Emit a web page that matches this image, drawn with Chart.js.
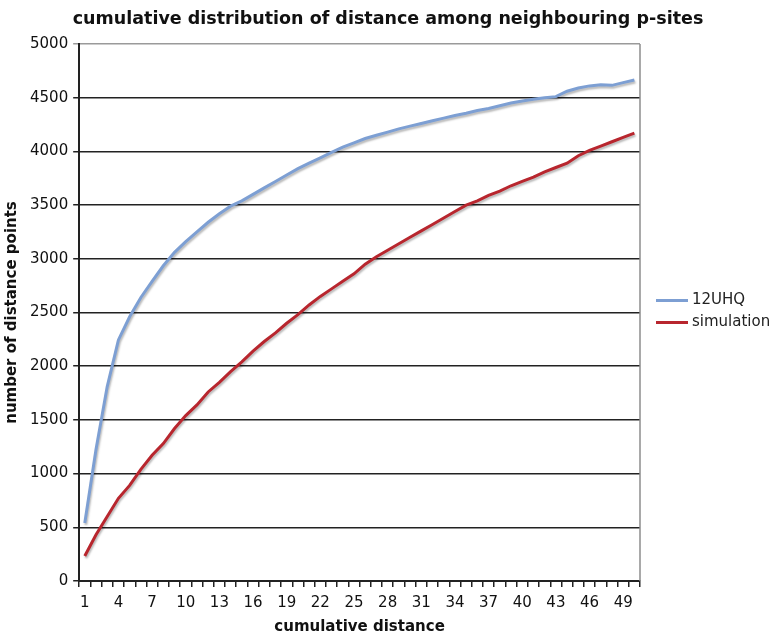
<!DOCTYPE html>
<html>
<head>
<meta charset="utf-8">
<script src="https://cdn.jsdelivr.net/npm/chart.js@4"></script>
<style>
  body { margin: 0; background: #fff; }
  #wrap { width: 780px; height: 635px; position: relative; }
</style>
</head>
<body>
<div id="wrap"><canvas id="cdfChart"></canvas></div>
<script>
// distance values along the x axis
const distances = [];
for (let d = 1; d <= 50; d++) distances.push(String(d));

const uhqCounts = [540, 1225, 1810, 2245, 2460, 2640, 2790, 2935, 3060, 3160,
  3250, 3340, 3420, 3490, 3540, 3600, 3660, 3720, 3780, 3840,
  3890, 3940, 3990, 4040, 4080, 4120, 4150, 4180, 4210, 4235,
  4260, 4285, 4310, 4335, 4355, 4380, 4400, 4425, 4450, 4470,
  4485, 4500, 4510, 4560, 4590, 4610, 4620, 4615, 4640, 4665];

const simCounts = [233, 430, 600, 770, 890, 1040, 1170, 1280, 1420, 1540,
  1640, 1760, 1850, 1950, 2040, 2140, 2230, 2310, 2400, 2480,
  2570, 2650, 2720, 2790, 2860, 2950, 3020, 3080, 3140, 3200,
  3260, 3320, 3380, 3440, 3500, 3540, 3590, 3630, 3680, 3720,
  3760, 3810, 3850, 3890, 3960, 4010, 4050, 4090, 4130, 4170];

const seriesNames = ["12UHQ", "simulation"];
const seriesColors = ["#7d9fd3", "#b8262e"];

const chartTitle = "cumulative distribution of distance among neighbouring p-sites";

const yMax = 5000;
const yStep = 500;

const fontFamily = "'DejaVu Sans', Verdana, sans-serif";

// soft grey shadow under the lines, like the original
const lineShadow = {
  id: "lineShadow",
  beforeDatasetDraw(chart) {
    const c = chart.ctx;
    c.save();
    c.shadowColor = "rgba(0,0,0,0.28)";
    c.shadowBlur = 2;
    c.shadowOffsetX = 1;
    c.shadowOffsetY = 2;
  },
  afterDatasetDraw(chart) {
    chart.ctx.restore();
  }
};

// grey frame on the right side of the plot
const rightFrame = {
  id: "rightFrame",
  afterDraw(chart) {
    const { ctx, chartArea } = chart;
    ctx.save();
    ctx.strokeStyle = "#8c8c8c";
    ctx.lineWidth = 1.5;
    ctx.beginPath();
    ctx.moveTo(chartArea.right, chartArea.top);
    ctx.lineTo(chartArea.right, chartArea.bottom);
    ctx.stroke();
    ctx.restore();
  }
};

// title centred on the whole canvas (the built-in one centres on the plot box)
const pageTitle = {
  id: "pageTitle",
  afterDraw(chart) {
    const { ctx, width } = chart;
    ctx.save();
    ctx.font = "bold 17.5px " + fontFamily;
    ctx.fillStyle = "#111";
    ctx.textAlign = "center";
    ctx.textBaseline = "middle";
    ctx.fillText(chartTitle, width / 2 - 2, 19);
    ctx.restore();
  }
};

// simple legend to the right of the plot
const sideLegend = {
  id: "sideLegend",
  afterDraw(chart) {
    const { ctx, chartArea } = chart;
    const mid = (chartArea.top + chartArea.bottom) / 2;
    const x0 = chartArea.right + 16;
    ctx.save();
    ctx.font = "15px " + fontFamily;
    ctx.textBaseline = "middle";
    chart.data.datasets.forEach((ds, i) => {
      const y = mid - 12 + i * 22;
      ctx.strokeStyle = ds.borderColor;
      ctx.lineWidth = 3;
      ctx.beginPath();
      ctx.moveTo(x0, y);
      ctx.lineTo(x0 + 32, y);
      ctx.stroke();
      ctx.fillStyle = "#222";
      ctx.fillText(ds.label, x0 + 36, y);
    });
    ctx.restore();
  }
};

const ctx = document.querySelector("#cdfChart").getContext("2d");

const data = {
  labels: distances,
  datasets: [uhqCounts, simCounts].map((vals, i) => ({
    label: seriesNames[i],
    data: vals,
    borderColor: seriesColors[i],
    backgroundColor: seriesColors[i],
    borderWidth: 3,
    pointRadius: 0,
    tension: 0,
    fill: false
  }))
};

const config = {
  type: "line",
  data: data,
  options: {
    responsive: true,
    maintainAspectRatio: false,
    animation: false,
    layout: { padding: { left: 3, right: 140, top: 44, bottom: 0 } },
    plugins: {
      legend: { display: false },
      tooltip: { enabled: false },
      title: { display: false }
    },
    scales: {
      x: {
        type: "category",
        offset: true,
        grid: {
          offset: true,
          drawOnChartArea: false,
          drawTicks: true,
          tickLength: 6,
          color: "#222",
          lineWidth: 1.5
        },
        border: { color: "#222", width: 2 },
        ticks: {
          autoSkip: false,
          maxRotation: 0,
          padding: 9,
          color: "#111",
          font: { family: fontFamily, size: 15, lineHeight: 1 },
          callback: function (val, index) {
            return index % 3 === 0 ? this.getLabelForValue(val) : "";
          }
        },
        title: {
          display: true,
          text: "cumulative distance",
          color: "#111",
          font: { family: fontFamily, size: 15, weight: "bold", lineHeight: 1 },
          padding: { top: 0, bottom: 0 }
        }
      },
      y: {
        min: 0,
        max: yMax,
        grid: {
          color: (c) => (c.tick && c.tick.value === yMax ? "#9a9a9a" : "#222"),
          lineWidth: 1.5,
          tickLength: 6
        },
        border: { color: "#222", width: 2 },
        ticks: {
          stepSize: yStep,
          padding: 5,
          color: "#111",
          font: { family: fontFamily, size: 15 },
          callback: (v) => String(v)
        },
        title: {
          display: true,
          text: "number of distance points",
          color: "#111",
          font: { family: fontFamily, size: 15, weight: "bold" },
          padding: { top: 0, bottom: 4 }
        }
      }
    }
  },
  plugins: [lineShadow, rightFrame, pageTitle, sideLegend]
};

const cdfChart = new Chart(ctx, config);
</script>
</body>
</html>
